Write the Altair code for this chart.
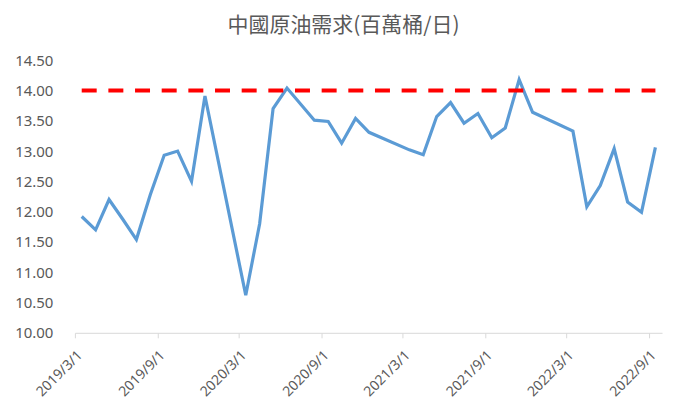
import altair as alt
import pandas as pd

months = [
    "2019-03", "2019-04", "2019-05", "2019-06", "2019-07", "2019-08", "2019-09",
    "2019-10", "2019-11", "2019-12", "2020-03", "2020-04", "2020-05", "2020-06",
    "2020-08", "2020-09", "2020-10", "2020-11", "2020-12", "2021-03", "2021-04",
    "2021-05", "2021-06", "2021-07", "2021-08", "2021-09", "2021-10", "2021-11",
    "2021-12", "2022-03", "2022-04", "2022-05", "2022-06", "2022-07", "2022-08",
    "2022-09",
]
demand = [
    11.92, 11.70, 12.20, 11.87, 11.54, 12.28, 12.93,
    13.00, 12.50, 13.91, 10.62, 11.80, 13.70, 14.04,
    13.51, 13.49, 13.13, 13.54, 13.31, 13.02, 12.94,
    13.57, 13.80, 13.46, 13.62, 13.22, 13.38, 14.18,
    13.64, 13.33, 12.08, 12.43, 13.04, 12.16, 11.99,
    13.06,
]
target_value = 14.0
tick_labels = ["2019/3/1", "2019/9/1", "2020/3/1", "2020/9/1",
               "2021/3/1", "2021/9/1", "2022/3/1", "2022/9/1"]
y_ticks = [10.0, 10.5, 11.0, 11.5, 12.0, 12.5, 13.0, 13.5, 14.0, 14.5]

df = pd.DataFrame({"m": [m + "-01T00:00:00" for m in months], "v": demand})
target_df = pd.DataFrame({"m": [df["m"].iloc[0]], "m2": [df["m"].iloc[-1]], "v": [target_value]})

tick_vals = []
for t in tick_labels:
    y, mo, d = t.split("/")
    tick_vals.append(alt.DateTime(year=int(y), month=int(mo), date=int(d)))

x_scale = alt.Scale(domain=[alt.DateTime(year=2019, month=3, date=1),
                            alt.DateTime(year=2022, month=10, date=1)])
y_scale = alt.Scale(domain=[10, 14.5], nice=False, zero=False)

gray = "#595959"
font = "Noto Sans CJK TC"
num_font = "Noto Sans"

x_axis = alt.Axis(values=tick_vals, format="%Y/%-m/%-d", labelAngle=315,
                  labelAlign="right", labelBaseline="top", labelFontSize=14,
                  labelColor=gray, labelFont=num_font, domainColor="#d9d9d9",
                  tickColor="#d9d9d9", tickSize=5, grid=False, title=None,
                  labelPadding=10, labelOverlap=False)
y_axis = alt.Axis(values=y_ticks, format=".2f", labelFontSize=15, labelColor=gray,
                  labelFont=num_font, domain=False, ticks=False, grid=False, title=None,
                  labelPadding=22, labelOverlap=False, labelFlush=False,
                  tickCount=10)

shift = "toDate(datum.m) + 15.2 * 86400000"

line = alt.Chart(df).transform_calculate(t=shift).mark_line(
    color="#5b9bd5", strokeWidth=3.2, strokeJoin="miter"
).encode(
    x=alt.X("t:T", scale=x_scale, axis=x_axis),
    y=alt.Y("v:Q", scale=y_scale, axis=y_axis),
)

rule = alt.Chart(target_df).transform_calculate(
    t="toDate(datum.m) + 15.2 * 86400000",
    t2="toDate(datum.m2) + 15.2 * 86400000",
).mark_rule(color="#ff0000", strokeWidth=4, strokeDash=[15, 11.7]).encode(
    x=alt.X("t:T", scale=x_scale, axis=x_axis),
    x2="t2:T",
    y=alt.Y("v:Q", scale=y_scale, axis=y_axis),
)

chart = alt.layer(line, rule).properties(
    width=588, height=273,
    title=alt.TitleParams("中國原油需求(百萬桶/日)", font=font, fontSize=21,
                          fontWeight="normal", color=gray, offset=17, dx=-25),
    padding={"left": 67, "top": 52, "right": 20, "bottom": 70},
    autosize=alt.AutoSizeParams(type="none"),
).configure_view(stroke=None)

chart.save("out.html", embed_options={"renderer": "svg", "actions": False})
